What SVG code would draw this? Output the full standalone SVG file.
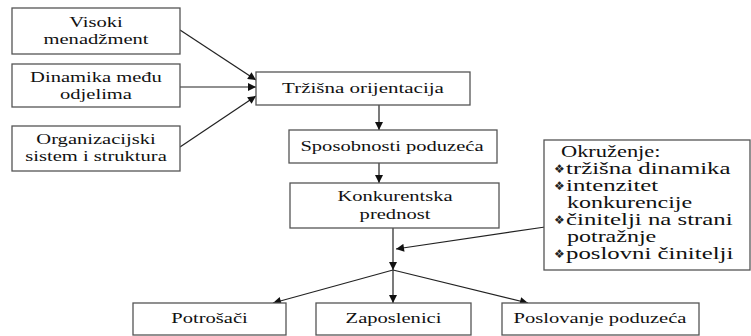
<svg xmlns="http://www.w3.org/2000/svg" width="751" height="336" viewBox="0 0 751 336">
<defs>
<style>
.box{fill:#fff;stroke:#555;stroke-width:1.3}
.ln{stroke:#222;stroke-width:1.2;fill:none;marker-end:url(#ah)}
</style>
<marker id="ah" viewBox="0 0 10 10" refX="10" refY="5" markerWidth="9" markerHeight="8" markerUnits="userSpaceOnUse" orient="auto">
<path d="M0,0 L10,5 L0,10 z" fill="#111"/>
</marker>
</defs>
<rect width="751" height="336" fill="#fff"/>
<g id="connectors">
<line class="ln" x1="180" y1="30" x2="256" y2="80"/>
<line class="ln" x1="180" y1="87" x2="256" y2="87"/>
<line class="ln" x1="180" y1="147" x2="256" y2="96"/>
<line class="ln" x1="379" y1="105" x2="379" y2="130"/>
<line class="ln" x1="379" y1="163" x2="379" y2="183"/>
<line class="ln" x1="393" y1="228" x2="393" y2="270"/>
<line class="ln" x1="545" y1="227" x2="396" y2="249"/>
<line class="ln" x1="393" y1="270" x2="273" y2="303"/>
<line class="ln" x1="393" y1="270" x2="393" y2="303"/>
<line class="ln" x1="393" y1="270" x2="528" y2="303"/>
</g>
<g font-family="Liberation Serif, Times New Roman, serif" font-size="15" fill="#111" text-anchor="middle">
<g id="visoki">
<rect class="box" x="12" y="8" width="168" height="46"/>
<text transform="translate(96,27) scale(1.37,1)">Visoki</text>
<text transform="translate(96,44) scale(1.37,1)">menadžment</text>
</g>
<g id="dinamika">
<rect class="box" x="12" y="64" width="168" height="43"/>
<text transform="translate(96,82) scale(1.37,1)">Dinamika među</text>
<text transform="translate(96,99) scale(1.37,1)">odjelima</text>
</g>
<g id="organizacijski">
<rect class="box" x="12" y="126" width="168" height="45"/>
<text transform="translate(96,144) scale(1.37,1)">Organizacijski</text>
<text transform="translate(96,161) scale(1.37,1)">sistem i struktura</text>
</g>
<g id="trzisna">
<rect class="box" x="256" y="72" width="214" height="33"/>
<text transform="translate(363,93) scale(1.4,1)">Tržišna orijentacija</text>
</g>
<g id="sposobnosti">
<rect class="box" x="289" y="130" width="208" height="33"/>
<text transform="translate(392,151) scale(1.37,1)">Sposobnosti poduzeća</text>
</g>
<g id="konkurentska">
<rect class="box" x="290" y="183" width="209" height="45"/>
<text transform="translate(395,201) scale(1.37,1)">Konkurentska</text>
<text transform="translate(395,219) scale(1.37,1)">prednost</text>
</g>
<g id="okruzenje" text-anchor="start" font-size="16">
<rect class="box" x="544" y="140" width="206" height="130"/>
<text transform="translate(561,157) scale(1.4,1)">Okruženje:</text>
<text transform="translate(566,174) scale(1.55,1)">tržišna dinamika</text>
<text transform="translate(566,191) scale(1.55,1)">intenzitet</text>
<text transform="translate(567,208) scale(1.5,1)">konkurencije</text>
<text transform="translate(566,225) scale(1.55,1)">činitelji na strani</text>
<text transform="translate(567,242) scale(1.5,1)">potražnje</text>
<text transform="translate(566,259) scale(1.55,1)">poslovni činitelji</text>
<g font-family="DejaVu Sans, sans-serif" font-size="12" fill="#222">
<text x="554" y="173">❖</text>
<text x="554" y="190">❖</text>
<text x="554" y="224">❖</text>
<text x="554" y="258">❖</text>
</g>
</g>
<g id="potrosaci">
<rect class="box" x="133" y="303" width="153" height="32"/>
<text transform="translate(209.5,323) scale(1.37,1)">Potrošači</text>
</g>
<g id="zaposlenici">
<rect class="box" x="316" y="303" width="155" height="32"/>
<text transform="translate(393.5,323) scale(1.37,1)">Zaposlenici</text>
</g>
<g id="poslovanje">
<rect class="box" x="502" y="303" width="197" height="32"/>
<text transform="translate(600,323) scale(1.37,1)">Poslovanje poduzeća</text>
</g>
</g>
</svg>
